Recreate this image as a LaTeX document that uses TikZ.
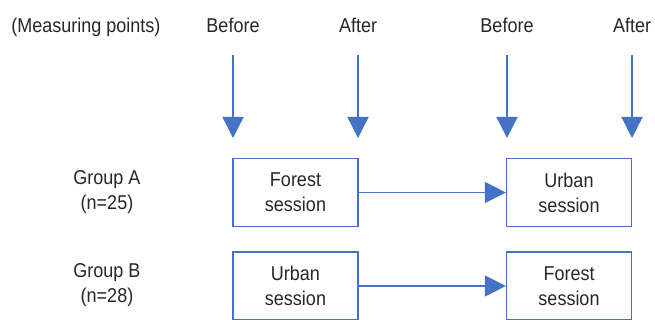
\documentclass[tikz,border=0pt]{standalone}
\usepackage{fontspec}
\setmainfont{Liberation Sans}[FakeStretch=0.9]
\usepackage{xcolor}
\usepackage{tikz}
\usetikzlibrary{arrows.meta,positioning}
\definecolor{flowblue}{HTML}{4472C4}
\definecolor{inktext}{HTML}{262626}

\begin{document}
\begin{tikzpicture}[
  x=1pt, y=-1pt,
  font=\fontsize{20}{25}\selectfont, text=inktext,
  measure/.style={anchor=base, inner sep=0pt},
  grp/.style={align=center, inner sep=0pt},
  session/.style={draw=flowblue, line width=1.2pt, align=center, minimum width=125pt, minimum height=68pt, inner sep=0pt},
  arrow/.style={draw=flowblue, line width=1.3pt, -{Triangle[length=21pt, width=21pt]}, fill=flowblue}
]
  \useasboundingbox (0,0) rectangle (655,320);

  % measuring points
  \node[measure] (mp) at (86,33) {(Measuring points)};
  \node[measure] (before1) at (233,33) {Before};
  \node[measure] (after1) at (358,33) {After};
  \node[measure] (before2) at (507,33) {Before};
  \node[measure] (after2) at (632,33) {After};

  \foreach \n/\x in {before1/233, after1/358, before2/507, after2/632} {
    \coordinate (\n top) at (\x,55);
    \coordinate (\n tip) at (\x,138);
    \draw[arrow] (\n top) -- (\n tip);
  }

  % groups
  \node[grp] (groupA) at (107,192) {Group A\\(n=25)};
  \node[grp] (groupB) at (107,285) {Group B\\(n=28)};

  % sessions
  \node[session] (forestA) at (295.5,192.5) {Forest\\session};
  \node[session] (urbanA) at (569,192.5) {Urban\\session};
  \node[session] (urbanB) at (295.5,286) {Urban\\session};
  \node[session] (forestB) at (569,286) {Forest\\session};

  \draw[arrow] (forestA) -- (urbanA);
  \draw[arrow] (urbanB) -- (forestB);
\end{tikzpicture}
\end{document}
